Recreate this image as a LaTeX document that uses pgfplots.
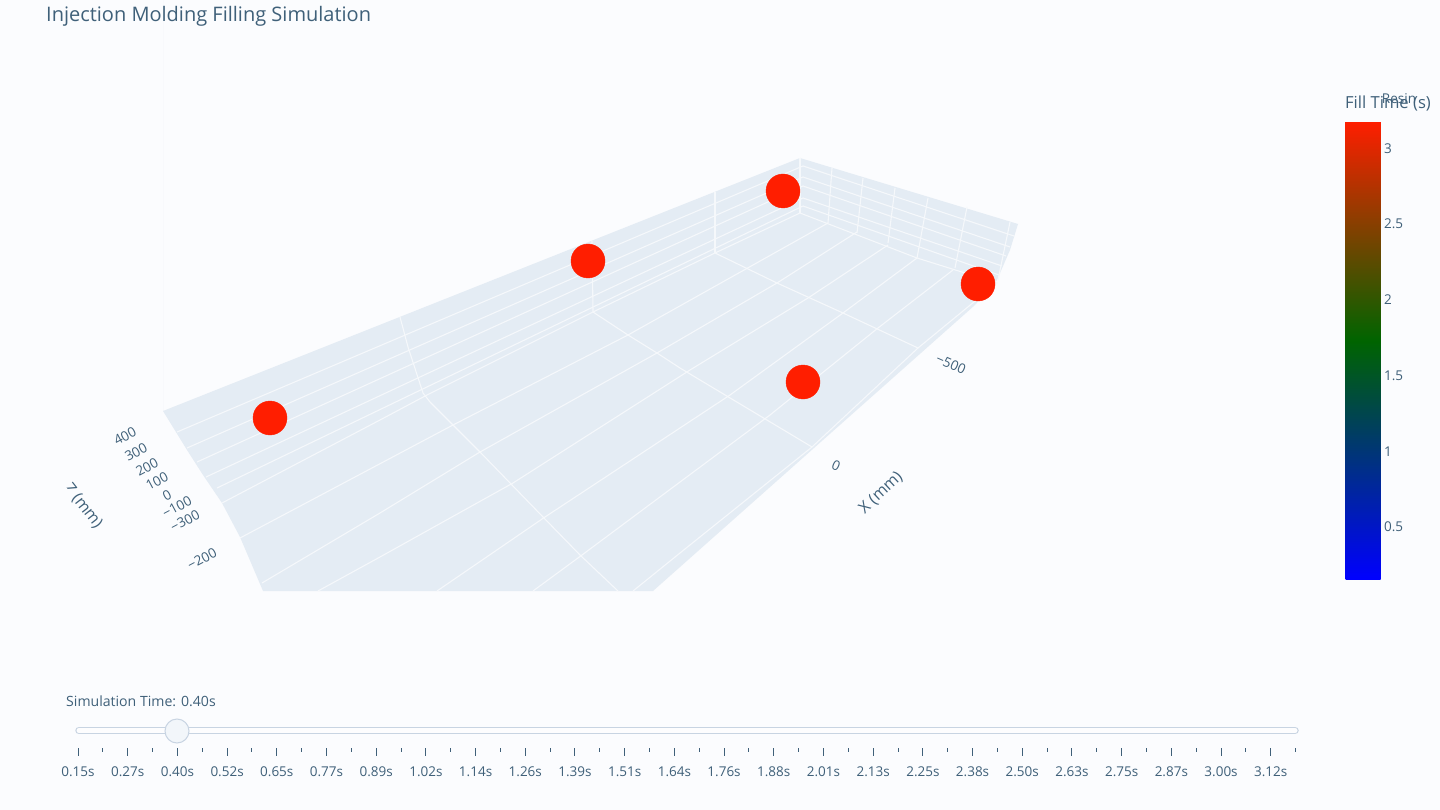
\documentclass[border=0pt]{standalone}
\usepackage{pgfplots}
\usepackage{fontspec}
\setmainfont{Open Sans}
\pgfplotsset{compat=1.18}
\definecolor{bgc}{HTML}{FBFCFE}
\definecolor{floorc}{HTML}{E4ECF4}
\definecolor{gridc}{HTML}{F5F8FB}
\definecolor{txt}{HTML}{3F6079}
\definecolor{railc}{HTML}{C8D4E2}
\pgfplotsset{
  colormap={fillmap}{rgb255(0)=(0,0,255); rgb255(1.58)=(0,100,0); rgb255(3.03)=(255,30,0)},
}
\begin{document}
\begin{tikzpicture}
\useasboundingbox (0,0) rectangle (1440pt,810pt);
\begin{axis}[
  at={(0,0)},anchor=south west,
  width=1440pt,height=810pt,scale only axis,
  xmin=0,xmax=1440,ymin=0,ymax=810,y dir=reverse,
  hide axis,clip=false,
  point meta min=0.15,point meta max=3.18,
  colormap name=fillmap,
  colorbar,
  colorbar/width=35pt,
  colorbar style={
    at={(parent axis.north west)},anchor=north west,xshift=1337pt,yshift=-121pt,
    height=459pt,
    axis line style={draw=none},
    ymin=0.15,ymax=3.18,
    ytick={0.5,1,1.5,2,2.5,3},
    yticklabels={0.5,1,1.5,2,2.5,3},
    major tick length=0pt,
    yticklabel style={font=\fontsize{13.5}{16}\selectfont,text=txt,anchor=west,xshift=0pt},
  },
  every axis plot/.append style={forget plot},
]
% background
\fill[bgc] (axis cs:0,0) rectangle (axis cs:1440,810);
% scene walls and floor
\addplot[fill=floorc,draw=none] coordinates {(163,411)(800,158)(1018,224)(1010,250)(997,280)(975,305)(653,591)(263,591)(240,537)(222,503)(203,475)(187,450)(163,411)} \closedcycle;
% left wall lines
\addplot[gridc,line width=1.1pt] coordinates {(177,432)(803,166)};
\addplot[gridc,line width=1.1pt] coordinates {(187,448)(803,177)};
\addplot[gridc,line width=1.1pt] coordinates {(197,462)(803,186)};
\addplot[gridc,line width=1.1pt] coordinates {(206,477)(803,198)};
\addplot[gridc,line width=1.1pt] coordinates {(217,488)(803,206)};
% left wall verticals
\addplot[gridc,line width=1.1pt] coordinates {(400,317)(408,347)(423,393)(430,402)};
\addplot[gridc,line width=1.1pt] coordinates {(592,241)(593,312)};
\addplot[gridc,line width=1.1pt] coordinates {(715,192)(715,253)};
\addplot[gridc,line width=1.1pt] coordinates {(800,158)(800,213)};
% right wall horizontals
\addplot[gridc,line width=1.1pt] coordinates {(803,166)(1014,236)};
\addplot[gridc,line width=1.1pt] coordinates {(803,177)(1010,247)};
\addplot[gridc,line width=1.1pt] coordinates {(803,186)(1006,256)};
\addplot[gridc,line width=1.1pt] coordinates {(803,198)(1002,266)};
\addplot[gridc,line width=1.1pt] coordinates {(803,206)(999,275)};
% right wall verticals
\addplot[gridc,line width=1.1pt] coordinates {(832,168)(828,223)};
\addplot[gridc,line width=1.1pt] coordinates {(863,178)(857,233)};
\addplot[gridc,line width=1.1pt] coordinates {(895,188)(888,243)};
\addplot[gridc,line width=1.1pt] coordinates {(928,198)(917,258)};
\addplot[gridc,line width=1.1pt] coordinates {(967,207)(955,268)};
\addplot[gridc,line width=1.1pt] coordinates {(1010,222)(998,280)};
% floor lines running away
\addplot[gridc,line width=1.1pt] coordinates {(222,503)(380,420)(427,395)(593,312)(715,253)(800,213)(917,258)(997,283)};
\addplot[gridc,line width=1.1pt] coordinates {(240,538)(453,425)(628,335)(828,223)};
\addplot[gridc,line width=1.1pt] coordinates {(262,583)(380,513)(480,452)(657,353)(777,283)(857,232)};
\addplot[gridc,line width=1.1pt] coordinates {(318,591)(380,557)(513,483)(690,370)(808,298)(888,245)};
\addplot[gridc,line width=1.1pt] coordinates {(437,591)(545,517)(730,395)(843,313)(917,258)};
\addplot[gridc,line width=1.1pt] coordinates {(533,591)(582,555)(770,415)(878,328)(953,270)};
\addplot[gridc,line width=1.1pt] coordinates {(633,591)(680,553)(812,447)(918,348)(997,283)};
% floor cross lines
\addplot[gridc,line width=1.1pt] coordinates {(430,402)(480,452)(543,517)(580,555)(618,591)};
\addplot[gridc,line width=1.1pt] coordinates {(593,312)(628,335)(657,353)(680,368)(812,447)};
\addplot[gridc,line width=1.1pt] coordinates {(715,253)(777,283)(843,313)(918,348)};
% points
\addplot[scatter,only marks,mark=*,mark size=17pt,point meta=explicit,
  scatter/use mapped color={draw=mapped color,fill=mapped color}]
  coordinates {(270,418)[3.18](588,261)[3.18](783,191)[3.18](978,284)[3.18](803,382)[3.18]};
% slider rail and handle
\addplot[railc,line width=7.5pt,line cap=round] coordinates {(79,730.5)(1295,730.5)};
\addplot[bgc!60!white,line width=5pt,line cap=round] coordinates {(79,730.5)(1295,730.5)};
\addplot[only marks,mark=*,mark size=12pt,mark options={fill=bgc!60!floorc,draw=railc,line width=1pt}] coordinates {(177,731)};
% texts
\node[anchor=west,inner sep=0pt,text=txt,font=\fontsize{20}{24}\selectfont] at (axis cs:46,16) {Injection Molding Filling Simulation};
\node[anchor=west,inner sep=0pt,text=txt,font=\fontsize{14.1}{16}\selectfont] at (axis cs:66,701) {Simulation Time: 0.40s};
\node[text=txt,font=\fontsize{13.5}{16}\selectfont] at (axis cs:1399,99) {Resin};
\node[text=txt,font=\fontsize{16.6}{18}\selectfont] at (axis cs:1388,104) {Fill Time (s)};
\node[text=txt,rotate=28,font=\fontsize{13.5}{16}\selectfont] at (axis cs:125,436) {400};
\node[text=txt,rotate=28,font=\fontsize{13.5}{16}\selectfont] at (axis cs:136,452) {300};
\node[text=txt,rotate=28,font=\fontsize{13.5}{16}\selectfont] at (axis cs:147,467) {200};
\node[text=txt,rotate=28,font=\fontsize{13.5}{16}\selectfont] at (axis cs:157,481) {100};
\node[text=txt,rotate=28,font=\fontsize{13.5}{16}\selectfont] at (axis cs:167,495) {0};
\node[text=txt,rotate=28,font=\fontsize{13.5}{16}\selectfont] at (axis cs:177,507) {−100};
\node[text=txt,rotate=28,font=\fontsize{13.5}{16}\selectfont] at (axis cs:185,521) {−300};
\node[text=txt,rotate=28,font=\fontsize{13.5}{16}\selectfont] at (axis cs:202,559) {−200};
\node[text=txt,rotate=-24,font=\fontsize{13.5}{16}\selectfont] at (axis cs:951,364) {−500};
\node[text=txt,rotate=-24,font=\fontsize{13.5}{16}\selectfont] at (axis cs:836,466) {0};
\node[text=txt,rotate=43,font=\fontsize{16}{18}\selectfont] at (axis cs:881,493) {X (mm)};
\node[text=txt,rotate=-52,font=\fontsize{16}{18}\selectfont] at (axis cs:83,506) {Z (mm)};
% the reference cuts off the lower stroke of the first letter
\fill[bgc] (axis cs:64.7,485.3)--(axis cs:72.1,494.7)--(axis cs:68.8,497.3)--(axis cs:61.4,487.9)--cycle;
\end{axis}
% slider ticks
\begin{axis}[
  at={(78pt,62pt)},anchor=south west,
  width=1217.65pt,height=1pt,scale only axis,
  xmin=0,xmax=49,ymin=0,ymax=1,
  axis line style={draw=none},
  axis x line*=bottom,axis y line=none,
  tick align=outside,
  xtick={0,2,...,48},
  minor xtick={1,3,...,49},
  xticklabels={0.15s,0.27s,0.40s,0.52s,0.65s,0.77s,0.89s,1.02s,1.14s,1.26s,1.39s,1.51s,1.64s,1.76s,1.88s,2.01s,2.13s,2.25s,2.38s,2.50s,2.63s,2.75s,2.87s,3.00s,3.12s},
  major tick length=8pt,minor tick length=4pt,
  tick style={draw=txt,line width=1pt},
  xticklabel style={font=\fontsize{13.5}{16}\selectfont,text=txt,yshift=-7pt},
]
\addplot[draw=none] coordinates {(0,0)(49,0)};
\end{axis}
\end{tikzpicture}
\end{document}
